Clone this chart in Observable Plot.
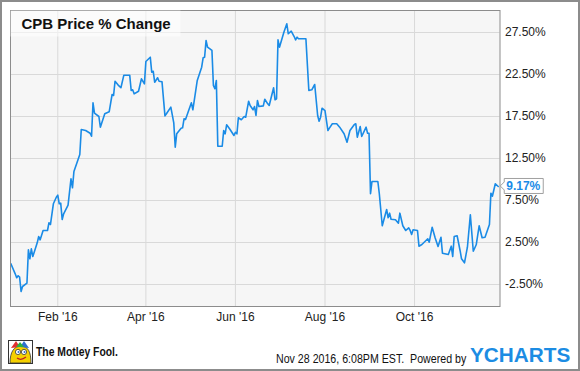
<!DOCTYPE html>
<html><head><meta charset="utf-8">
<script src="https://cdn.jsdelivr.net/npm/d3@7"></script>
<script src="https://cdn.jsdelivr.net/npm/@observablehq/plot@0.6"></script>
<style>
html,body{margin:0;padding:0;background:#fff;}
#wrap{position:relative;width:580px;height:371px;overflow:hidden;}
#wrap svg{position:absolute;left:0;top:0;}
</style></head>
<body><div id="wrap"></div>
<script>
const title = "CPB Price % Change";
// trading days, as day offset from 1 Jan 2016
const dayOfYear = [
  -1,2,3,4,5,6,7,10,11,12,
  13,14,17,18,19,21,24,25,26,28,
  30,31,32,33,34,35,38,40,41,42,
  46,47,50,53,54,55,56,59,60,63,
  66,68,69,70,72,74,76,80,81,82,
  83,86,88,90,91,94,95,96,97,99,
  100,102,104,105,108,110,111,112,115,116,
  117,118,122,123,126,129,130,131,132,133,
  136,137,138,139,140,143,144,145,146,148,
  151,152,153,154,156,158,159,161,162,164,
  165,166,167,168,171,172,174,175,178,179,
  180,181,182,185,187,188,190,192,193,194,
  195,200,202,204,206,208,209,210,211,213,
  215,216,218,221,223,226,228,230,233,234,
  235,237,238,241,242,243,244,245,249,250,
  252,255,256,257,258,261,263,264,266,268,
  270,271,272,273,276,277,279,283,284,286,
  288,290,292,293,297,299,300,301,303,305,
  306,308,310,312,314,316,318,320,322,325,
  326,327,329,331
];
const pctChange = [
  0.00,-1.23,-1.70,-1.46,-1.63,-3.33,-2.74,-2.35,1.63,0.56,
  1.75,0.83,2.46,3.21,2.82,3.93,3.93,4.85,4.64,7.11,
  7.89,8.13,7.11,7.18,5.24,5.92,6.94,10.08,9.01,10.95,
  12.98,15.95,15.83,15.51,15.15,19.13,17.89,17.50,16.23,17.82,
  18.06,20.12,20.00,21.70,21.27,20.92,22.42,22.42,20.60,20.68,
  20.20,20.51,21.99,21.39,24.05,24.56,22.77,22.89,21.58,22.11,
  21.70,21.63,17.58,17.82,18.61,16.75,13.85,15.44,16.11,16.15,
  17.23,17.14,19.13,18.30,21.79,23.37,24.49,24.56,26.55,25.75,
  25.36,21.19,20.80,21.79,13.96,13.96,15.83,15.44,16.51,16.04,
  15.24,15.63,15.44,17.35,17.11,17.50,17.42,19.32,18.81,18.30,
  18.69,17.62,19.40,18.69,18.77,19.56,19.01,18.81,20.92,19.49,
  19.61,26.63,25.75,27.54,28.54,27.35,27.66,27.02,26.63,26.94,
  26.75,26.75,20.60,20.68,21.31,17.62,16.94,17.42,18.49,18.21,
  15.83,16.11,16.63,16.63,16.23,15.44,14.44,15.83,16.55,16.63,
  15.04,16.31,15.12,16.23,15.51,15.51,8.30,9.76,9.76,8.30,
  4.49,6.43,5.44,5.99,5.27,5.20,4.80,5.99,4.49,3.93,
  4.25,3.93,3.45,4.01,3.93,2.06,2.26,2.94,2.54,4.32,
  3.06,2.02,3.13,1.23,1.07,2.06,0.83,3.21,3.30,1.55,
  0.56,0.08,1.94,5.80,1.46,2.23,4.49,3.06,3.13,4.64,
  8.37,8.01,9.49,9.17
];
const xTickLabels = ["2016-02-01","2016-04-01","2016-06-01","2016-08-01","2016-10-01"];
const yTicks = [-2.5,2.5,7.5,12.5,17.5,22.5,27.5];
const xDomainDays = [-1.2, 332.2];
const yDomain = [-5.12, 30.12];
const lastLabel = "9.17%";
const brand = "The Motley Fool.";
const stamp = "Nov 28 2016, 6:08PM EST.  Powered by";
const ycharts = "YCHARTS";

const base = new Date(2016,0,1).getTime();
const toDate = d => new Date(base + d*864e5);
const data = dayOfYear.map((d,i)=>({date: toDate(d), v: pctChange[i]}));
const parse = d3.timeParse("%Y-%m-%d");
const xTicks = xTickLabels.map(parse);
const font = '"Liberation Sans", Arial, sans-serif';
const blue = "#1a8be6";

const plot = Plot.plot({
  width:580, height:371,
  marginLeft:10, marginRight:80.5, marginTop:10, marginBottom:65,
  style:{fontFamily:font, fontSize:"12px", color:"#222", background:"transparent"},
  x:{type:"time", domain: xDomainDays.map(toDate)},
  y:{domain: yDomain},
  marks:[
    Plot.frame({fill:"#f6f6f6", stroke:null}),
    Plot.gridX(xTicks,{stroke:"#d9d9d9", strokeOpacity:1}),
    Plot.gridY(yTicks,{stroke:"#d9d9d9", strokeOpacity:1}),
    Plot.axisX(xTicks,{tickSize:0, tickPadding:6, label:null, tickFormat:d3.timeFormat("%b '%y"), fill:"#222"}),
    Plot.axisY(yTicks,{anchor:"right", tickSize:0, tickPadding:5, label:null, tickFormat:d=>d.toFixed(2)+"%", fill:"#222"}),
    Plot.line(data,{x:"date", y:"v", stroke:blue, strokeWidth:1.6}),
    Plot.frame({stroke:"#8c8c8c", strokeWidth:1})
  ]
});
document.getElementById("wrap").appendChild(plot);

function scaleFn(name){
  const s = plot.scale(name);
  if (s && typeof s.apply === "function") return v=>s.apply(v);
  const sc = name==="x" ? d3.scaleUtc() : d3.scaleLinear();
  sc.domain(s.domain).range(s.range);
  return v=>sc(v);
}
const sx = scaleFn("x"), sy = scaleFn("y");

const ov = d3.select("#wrap").append("svg").attr("width",580).attr("height",371)
  .style("pointer-events","none").style("font-family",font);

// outer border
ov.append("rect").attr("x",1).attr("y",1).attr("width",578).attr("height",369)
  .attr("fill","none").attr("stroke","#8c8c8c").attr("stroke-width",2);

// title box
ov.append("rect").attr("x",10.5).attr("y",10.5).attr("width",170).attr("height",26)
  .attr("fill","#fff").attr("fill-opacity",0.55);
ov.append("text").attr("x",21.5).attr("y",29.3).attr("font-size",15).attr("font-weight","bold")
  .attr("fill","#111").text(title);

// end label
const last = data[data.length-1];
const lx = sx(last.date), ly = sy(last.v);
const g = ov.append("g").attr("transform",`translate(${lx},${ly})`);
g.append("path").attr("d","M6.5,-7.5H45.5V7.5H6.5V4L2.5,0L6.5,-4Z")
  .attr("fill","#fff").attr("stroke","#a0a0a0").attr("stroke-width",1);
g.append("text").attr("x",8.5).attr("y",4.3).attr("font-size",12).attr("font-weight","bold")
  .attr("fill",blue).text(lastLabel);

// footer logo (jester)
const lg = ov.append("g").attr("transform","translate(8,340)");
lg.append("rect").attr("x",0.5).attr("y",0.5).attr("width",24).attr("height",23).attr("fill","#fff").attr("stroke","#333");
lg.append("path").attr("d","M2,23 C2,12 6,6 13,6 C20,6 23,12 23,23Z").attr("fill","#f5d000").attr("stroke","#333").attr("stroke-width",0.8);
lg.append("path").attr("d","M3,8 L8,1 L12,7Z").attr("fill","#e03030");
lg.append("path").attr("d","M12,7 L16,1 L21,8Z").attr("fill","#2f6fd0");
lg.append("path").attr("d","M8,7 L12,2 L16,7Z").attr("fill","#2bb040");
lg.append("circle").attr("cx",10).attr("cy",12).attr("r",2.6).attr("fill","#fff").attr("stroke","#333").attr("stroke-width",0.8);
lg.append("circle").attr("cx",16).attr("cy",12).attr("r",2.6).attr("fill","#fff").attr("stroke","#333").attr("stroke-width",0.8);
lg.append("circle").attr("cx",10.5).attr("cy",12).attr("r",1).attr("fill","#2f6fd0");
lg.append("circle").attr("cx",16.5).attr("cy",12).attr("r",1).attr("fill","#2f6fd0");
lg.append("path").attr("d","M9,18 Q13,21 18,17").attr("fill","none").attr("stroke","#c02020").attr("stroke-width",1.2);

// footer texts, horizontally fitted with a scale transform
function fitted(txt, x, y, w, size, weight, fill){
  const t = ov.append("text").attr("x",0).attr("y",0).attr("font-size",size)
    .attr("font-weight",weight).attr("fill",fill).style("white-space","pre").text(txt);
  const nat = t.node().getComputedTextLength() || w;
  t.attr("transform",`translate(${x},${y}) scale(${w/nat},1)`);
}
fitted(brand, 36, 356, 82, 13, "bold", "#111");
fitted(stamp, 276, 362.5, 190.5, 12.5, "normal", "#111");
fitted(ycharts, 470, 361.7, 100.5, 20.5, "bold", "#1c8ce3");
</script>
</body></html>
